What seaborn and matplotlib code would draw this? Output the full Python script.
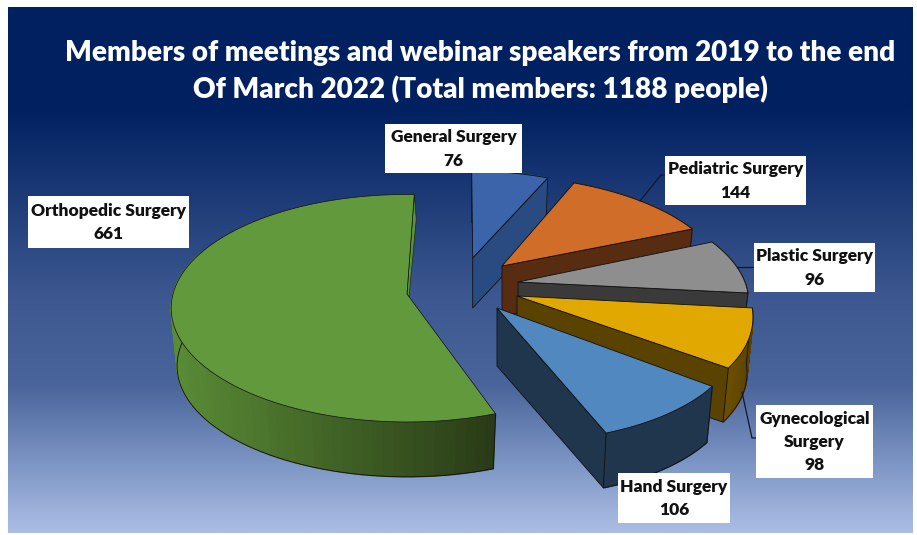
import numpy as np
import matplotlib
matplotlib.use("Agg")
import matplotlib.pyplot as plt
from matplotlib.colors import LinearSegmentedColormap, to_rgb
from matplotlib.patches import Rectangle
import seaborn as sns

# chart data, clockwise from the top
labels = ["General Surgery", "Pediatric Surgery", "Plastic Surgery",
          "Gynecological\nSurgery", "Hand Surgery", "Orthopedic Surgery"]
values = [76, 144, 96, 98, 106, 661]

title_lines = ["Members of meetings and webinar speakers from 2019 to the end",
               "Of March 2022 (Total members: 1188 people)"]

top_colors = ["#3b64ab", "#d06d28", "#8e8e8e", "#e0a800", "#5088bf", "#62993c"]
cut_colors = ["#2a4a82", "#572c11", "#3a3a3a", "#5a4200", "#20364c", "#5d9239"]
arc_light = ["#2a4a82", "#572c11", "#3a3a3a", "#6b4e00", "#20364c", "#5a8c36"]
arc_dark = ["#2a4a82", "#572c11", "#3a3a3a", "#4d3900", "#20364c", "#2a3c17"]

# where each exploded slice sits in the picture
apex_x = [472.7, 502, 518, 517, 497, 407]
apex_y = [258, 266, 282, 296, 308, 294]
center_y = [256, 262.4, 277.6, 291, 308, 294]
radius_x = [214.6, 218, 225, 230, 239, 234]
radius_y = [96, 97.7, 104, 115, 117, 112]
skew = [8.6, 13.8, 21, 23, 17.5, 0]
depth = [50, 50, 50, 56, 58, 58]
start_angle = 2
persp = 0.125
shrink = 0.975

# label boxes: left, top, right, bottom
boxes = [(385, 124, 522, 173), (665, 156, 806, 205), (754, 243, 875, 292),
         (756, 405, 873, 478), (618, 473, 730, 523), (28, 196, 189, 248)]
leaders = [None, [(640, 201), (661, 175), (666, 175)],
           [(737, 267), (754, 267)],
           [(742, 392), (752, 438), (757, 438)], None, None]

sns.set_theme(style="white")
plt.rcParams["font.family"] = ["Lato", "DejaVu Sans"]

fig = plt.figure(figsize=(9.17, 5.35), dpi=100, facecolor="white")
ax = fig.add_axes([0, 0, 1, 1])

# background gradient
bg_cmap = LinearSegmentedColormap.from_list("bg", [
    (0.0, "#002060"), (0.19, "#002060"), (0.55, "#3d5890"),
    (0.72, "#4a659b"), (0.87, "#7e96c5"), (1.0, "#abbde4")])
ax.imshow(np.linspace(0, 1, 256).reshape(-1, 1), cmap=bg_cmap, aspect="auto",
          extent=(8, 913, 533, 7), zorder=0)


def project(i, theta, scale=1.0, drop=0.0):
    # theta in degrees, clockwise from the top
    t = np.radians(theta)
    x, y = np.sin(t), np.cos(t)
    s = 1 / (1 + persp * y)
    return (apex_x[i] + (radius_x[i] * x * s - skew[i] * y * s) * scale,
            center_y[i] - radius_y[i] * y * s * scale + drop)


edges = start_angle + np.cumsum([0] + values) / sum(values) * 360
palette = sns.color_palette(top_colors)

for i in range(len(values)):
    th = np.linspace(edges[i], edges[i + 1], 90)
    tx, ty = project(i, th)
    bx, by = project(i, th, shrink, depth[i])
    ax0, ay0 = apex_x[i], apex_y[i]
    light, dark = np.array(to_rgb(arc_light[i])), np.array(to_rgb(arc_dark[i]))

    # outer wall, shaded strip by strip
    for j in range(len(th) - 1):
        if i == 5:
            # green slice: dark on the right, lighter towards the left
            if th[j] > 290:
                continue
            f = np.clip((tx[0] - tx[j]) / (tx[0] - tx.min()), 0, 1)
        else:
            f = (th[j] - th[0]) / (th[-1] - th[0])
        col = dark + (light - dark) * f
        ax.fill([tx[j], tx[j + 1], bx[j + 1], bx[j]],
                [ty[j], ty[j + 1], by[j + 1], by[j]],
                facecolor=col, edgecolor=col, lw=1.0, zorder=2 + i)
    vis = th <= 290 if i == 5 else np.ones_like(th, dtype=bool)
    ax.plot(bx[vis], by[vis], color="#101010", lw=0.6, zorder=2 + i)
    ax.plot([tx[0], bx[0]], [ty[0], by[0]], color="#101010", lw=0.6, zorder=2 + i)

    # cut face at the clockwise end of the slice
    if i != 5:
        ax.fill([ax0, tx[-1], bx[-1], ax0], [ay0, ty[-1], by[-1], ay0 + depth[i]],
                facecolor=cut_colors[i], edgecolor="#101010", lw=0.6, zorder=2 + i)
    else:
        # the green cut is only a sliver seen from the front
        ax.fill([ax0, tx[-1], tx[-1] + 2, ax0 + 2], [ay0, ty[-1], ty[-1] + 25, ay0 + 3],
                facecolor=cut_colors[i], edgecolor="#1c2a10", lw=0.5, zorder=2 + i)

    # top face
    ax.fill(np.r_[ax0, tx], np.r_[ay0, ty], facecolor=palette[i],
            edgecolor="#101010", lw=0.6 if i != 5 else 0.5, zorder=2 + i)

# leader lines
for pts in leaders:
    if pts:
        ax.plot(*zip(*pts), color="#101828", lw=0.9, zorder=9)

# label boxes
for name, val, (l, t, r, b) in zip(labels, values, boxes):
    ax.add_patch(Rectangle((l, t), r - l, b - t, facecolor="white", lw=0, zorder=10))
    ax.text((l + r) / 2, (t + b) / 2 + 0.5, f"{name}\n{val}", ha="center", va="center",
            fontsize=12.5, fontweight="heavy", color="#111111", linespacing=1.55, zorder=11)

ax.text(480, 53, title_lines[0], ha="center", va="center", color="white",
        fontsize=20.1, fontweight="heavy", zorder=11)
ax.text(480, 89, title_lines[1], ha="center", va="center", color="white",
        fontsize=20.1, fontweight="heavy", zorder=11)

ax.set_xlim(0, 917)
ax.set_ylim(535, 0)
ax.axis("off")
fig.savefig("out.png", dpi=100)
